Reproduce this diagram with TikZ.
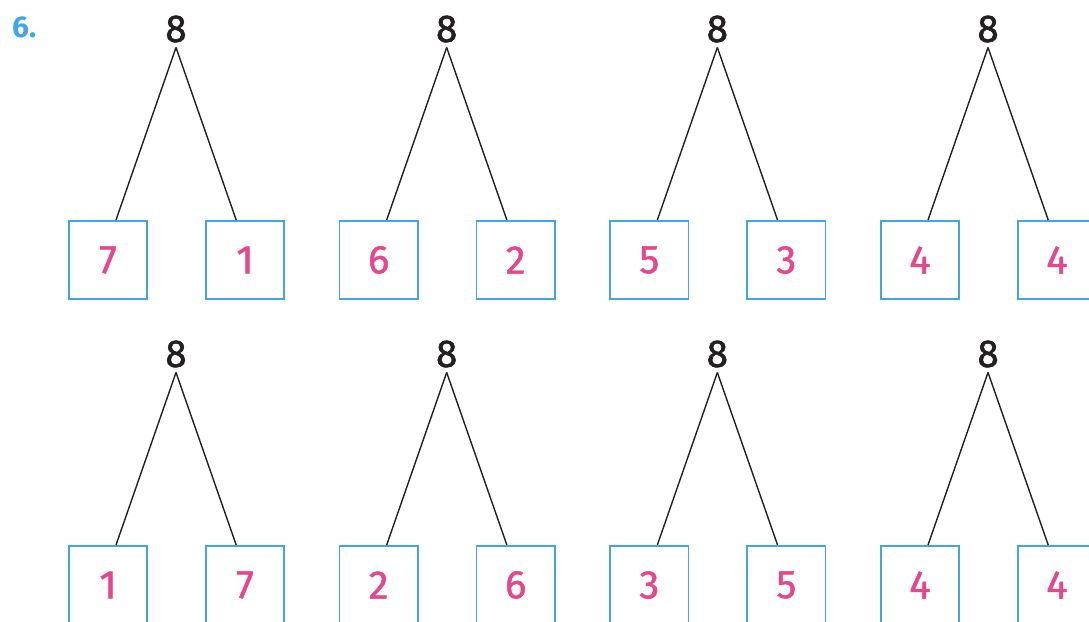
\documentclass[tikz,border=0pt]{standalone}
\usepackage{fontspec}
\setmainfont{Fira Sans}
\newfontfamily\medfont[FakeBold=1.2]{Fira Sans}
\usetikzlibrary{calc}
\definecolor{boxblue}{HTML}{42A6E2}
\definecolor{numpink}{HTML}{E8468B}
\definecolor{labblue}{HTML}{3DA8E6}
\definecolor{ink}{HTML}{231F20}
\begin{document}
\begin{tikzpicture}[x=1pt,y=-1pt,
  whole/.style={inner sep=0pt, inner ysep=5pt, outer sep=0pt, anchor=base, text=ink, font=\medfont\fontsize{39}{44}\selectfont},
  part/.style={draw=boxblue, line width=1.6pt, minimum size=78.5pt, inner sep=0pt, text=numpink, font=\medfont\fontsize{40}{48}\selectfont},
  link/.style={draw=ink, line width=1.4pt}]
\useasboundingbox (0,0) rectangle (1089,621);
\clip (0,0) rectangle (1089,621);
\node[anchor=base west, text=labblue, font=\fontsize{30}{36}\selectfont\bfseries, inner sep=0pt] (num) at (12,37) {6.};
\foreach \i/\a/\b/\c/\d in {0/7/1/1/7, 1/6/2/2/6, 2/5/3/3/5, 3/4/4/4/4} {
  \pgfmathsetmacro\cx{176+270.67*\i}
  \node[whole] (ta\i) at (\cx,42) {8};
  \node[part] (la\i) at (\cx-68,260) {\a};
  \node[part] (ra\i) at (\cx+69,260) {\b};
  \draw[link] (ta\i.south) -- ($(la\i.north west)!0.6!(la\i.north east)$);
  \draw[link] (ta\i.south) -- ($(ra\i.north west)!0.39!(ra\i.north east)$);
  \node[whole] (tb\i) at (\cx,367) {8};
  \node[part] (lb\i) at (\cx-68,585) {\c};
  \node[part] (rb\i) at (\cx+69,585) {\d};
  \draw[link] (tb\i.south) -- ($(lb\i.north west)!0.6!(lb\i.north east)$);
  \draw[link] (tb\i.south) -- ($(rb\i.north west)!0.39!(rb\i.north east)$);
}
\end{tikzpicture}
\end{document}
